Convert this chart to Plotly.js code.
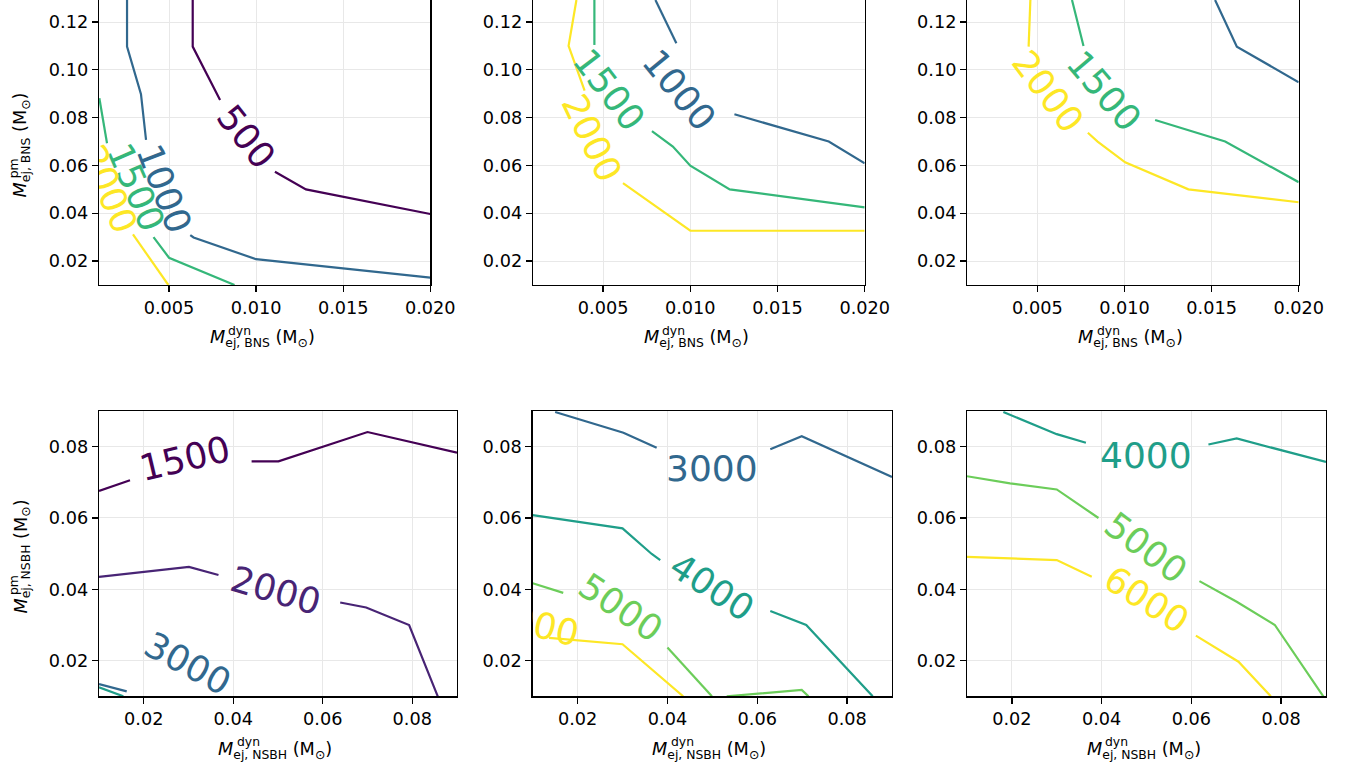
<!DOCTYPE html>
<html><head><meta charset="utf-8">
<script src="https://cdn.plot.ly/plotly-3.0.1.min.js"></script>
<style>html,body{margin:0;padding:0;background:#fff;}#chart{width:1358px;height:769px;}</style>
</head><body><div id="chart"></div>
<script>
// ---------------- data ----------------
const levelsTop = [500, 1000, 1500, 2000];
const levelsBottom = [1500, 2000, 3000, 4000, 5000, 6000];

const xTicksTop = [0.005, 0.010, 0.015, 0.020];
const xTickTextTop = ['0.005', '0.010', '0.015', '0.020'];
const yTicksTop = [0.02, 0.04, 0.06, 0.08, 0.10, 0.12];
const yTickTextTop = ['0.02', '0.04', '0.06', '0.08', '0.10', '0.12'];
const xTicksBottom = [0.02, 0.04, 0.06, 0.08];
const xTickTextBottom = ['0.02', '0.04', '0.06', '0.08'];
const yTicksBottom = [0.02, 0.04, 0.06, 0.08];
const yTickTextBottom = ['0.02', '0.04', '0.06', '0.08'];

// Panel 1 (BNS)
const p1_500_x  = [0.00636, 0.00636, 0.00793, null, 0.01108, 0.01286, 0.0200];
const p1_500_y  = [0.1292, 0.1097, 0.0874, null, 0.0574, 0.0500, 0.0397];
const p1_1000_x = [0.00259, 0.00259, 0.00339, 0.00368, null, 0.00622, 0.00641, 0.00999, 0.0200];
const p1_1000_y = [0.1292, 0.1097, 0.0898, 0.0707, null, 0.0309, 0.0299, 0.0208, 0.0131];
const p1_1500_x = [0.00100, 0.00144, null, 0.00411, 0.00500, 0.00876];
const p1_1500_y = [0.0881, 0.0693, null, 0.0300, 0.0214, 0.0100];
const p1_2000_x = [0.00293, 0.00496];
const p1_2000_y = [0.0312, 0.0100];
const p1_labels = [[500, 0.00942, 0.0721, 51.6], [1000, 0.0047, 0.0502, 69], [1500, 0.00311, 0.0508, 66.5], [2000, 0.00156, 0.0500, 67]];

// Panel 2 (BNS)
const p2_1000_x = [0.0080, 0.0092, null, 0.01253, 0.01794, 0.0200];
const p2_1000_y = [0.1292, 0.1111, null, 0.0814, 0.0700, 0.0609];
const p2_1500_x = [0.0045, 0.0045, null, 0.0078, 0.0090, 0.0100, 0.01226, 0.0200];
const p2_1500_y = [0.1292, 0.1104, null, 0.0744, 0.0679, 0.0599, 0.0500, 0.0425];
const p2_2000_x = [0.00347, 0.00302, 0.00394, null, 0.00614, 0.0100, 0.0200];
const p2_2000_y = [0.1292, 0.1100, 0.0913, null, 0.0526, 0.0327, 0.0327];
const p2_labels = [[1000, 0.00938, 0.0913, 50.7], [1500, 0.00532, 0.0916, 52.6], [2000, 0.00437, 0.0714, 64.6]];

// Panel 3 (BNS)
const p3_1000_x = [0.0152, 0.01645, 0.0200];
const p3_1000_y = [0.1292, 0.1097, 0.0948];
const p3_1500_x = [0.00699, 0.00765, null, 0.01176, 0.01578, 0.0200];
const p3_1500_y = [0.1292, 0.1100, null, 0.0790, 0.0700, 0.0530];
const p3_2000_x = [0.0046, 0.0045, null, 0.0079, 0.00846, 0.01004, 0.01367, 0.0200];
const p3_2000_y = [0.1292, 0.1097, null, 0.0737, 0.0700, 0.0613, 0.0500, 0.0446];
const p3_labels = [[1500, 0.00885, 0.0909, 49.6], [2000, 0.0056, 0.0909, 53]];

// Panel 4 (NSBH)
const p4_1500_x = [0.0100, 0.01693, null, 0.0441, 0.0501, 0.0700, 0.0900];
const p4_1500_y = [0.0676, 0.0706, null, 0.0759, 0.0759, 0.0841, 0.0783];
const p4_2000_x = [0.0100, 0.0301, 0.0367, null, 0.0639, 0.0697, 0.0793, 0.0857];
const p4_2000_y = [0.0435, 0.0463, 0.0440, null, 0.0363, 0.0349, 0.0300, 0.0100];
const p4_3000_x = [0.0100, 0.0162];
const p4_3000_y = [0.01345, 0.01137];
const p4_4000_x = [0.0100, 0.01543];
const p4_4000_y = [0.0125, 0.0100];
const p4_labels = [[1500, 0.0292, 0.0767, -13.4], [2000, 0.0495, 0.0398, 16.3], [3000, 0.0298, 0.0192, 28.4]];

// Panel 5 (NSBH)
const p5_3000_x = [0.0150, 0.0302, 0.0376, null, 0.0629, 0.0699, 0.0900];
const p5_3000_y = [0.0897, 0.0839, 0.0797, null, 0.0793, 0.0829, 0.0715];
const p5_4000_x = [0.0100, 0.0300, 0.0365, 0.0384, null, 0.0629, 0.0709, 0.0857];
const p5_4000_y = [0.0608, 0.0571, 0.0499, 0.0482, null, 0.0339, 0.0300, 0.0100];
const p5_5000_x = [0.0100, 0.0168, null, 0.0400, 0.0499, null, 0.0532, 0.0699, 0.0714];
const p5_5000_y = [0.0417, 0.0390, null, 0.0237, 0.0100, null, 0.0100, 0.0118, 0.0100];
const p5_6000_x = [0.01365, 0.0300, 0.0435];
const p5_6000_y = [0.0264, 0.0246, 0.0100];
const p5_labels = [[3000, 0.0500, 0.0739, 0], [4000, 0.0500, 0.0405, 33.3], [5000, 0.0296, 0.0349, 34], [6000, 0.01025, 0.0303, 14]];

// Panel 6 (NSBH)
const p6_4000_x = [0.0181, 0.0300, 0.0365, null, 0.0638, 0.0701, 0.0900];
const p6_4000_y = [0.0897, 0.0835, 0.0811, null, 0.0806, 0.0823, 0.0757];
const p6_5000_x = [0.0100, 0.0196, 0.0300, 0.0393, null, 0.0618, 0.0701, 0.0786, 0.0894];
const p6_5000_y = [0.0717, 0.0697, 0.0680, 0.0600, null, 0.0423, 0.0365, 0.0300, 0.0100];
const p6_6000_x = [0.0100, 0.0300, 0.0378, null, 0.0610, 0.0705, 0.0777];
const p6_6000_y = [0.0491, 0.0482, 0.0435, null, 0.0270, 0.0197, 0.0100];
const p6_labels = [[4000, 0.0498, 0.0776, 0], [5000, 0.0498, 0.0517, 36.9], [6000, 0.0500, 0.0372, 32.6]];

// ---------------- styling / layout ----------------
const W = 1358, H = 769;
const fx = v => v / W, fy = v => 1 - v / H;
const FONT = 'DejaVu Sans';
const TICK = 17.7, LAB = 36;

const colTop = {500: '#440154', 1000: '#31688e', 1500: '#35b779', 2000: '#fde725'};
const colBot = {1500: '#440154', 2000: '#482475', 3000: '#31688e', 4000: '#1f9e89', 5000: '#6ccd5a', 6000: '#fde725'};

const panels = [
  {n: 1, L: 99, R: 430.3, T: 0, B: 285, top: true, xr: [0.00098, 0.0200], yr: [0.01, 0.1292],
   lines: [[500, p1_500_x, p1_500_y], [1000, p1_1000_x, p1_1000_y], [1500, p1_1500_x, p1_1500_y], [2000, p1_2000_x, p1_2000_y]], labels: p1_labels},
  {n: 2, L: 533, R: 864.7, T: 0, B: 285, top: true, xr: [0.00098, 0.0200], yr: [0.01, 0.1292],
   lines: [[1000, p2_1000_x, p2_1000_y], [1500, p2_1500_x, p2_1500_y], [2000, p2_2000_x, p2_2000_y]], labels: p2_labels},
  {n: 3, L: 967.3, R: 1298.7, T: 0, B: 285, top: true, xr: [0.00098, 0.0200], yr: [0.01, 0.1292],
   lines: [[1000, p3_1000_x, p3_1000_y], [1500, p3_1500_x, p3_1500_y], [2000, p3_2000_x, p3_2000_y]], labels: p3_labels},
  {n: 4, L: 99, R: 457, T: 411, B: 696.3, top: false, xr: [0.01, 0.09], yr: [0.01, 0.09],
   lines: [[1500, p4_1500_x, p4_1500_y], [2000, p4_2000_x, p4_2000_y], [3000, p4_3000_x, p4_3000_y], [4000, p4_4000_x, p4_4000_y]], labels: p4_labels},
  {n: 5, L: 532.7, R: 892, T: 411, B: 696.3, top: false, xr: [0.01, 0.09], yr: [0.01, 0.09],
   lines: [[3000, p5_3000_x, p5_3000_y], [4000, p5_4000_x, p5_4000_y], [5000, p5_5000_x, p5_5000_y], [6000, p5_6000_x, p5_6000_y]], labels: p5_labels},
  {n: 6, L: 967, R: 1326, T: 411, B: 696.3, top: false, xr: [0.01, 0.09], yr: [0.01, 0.09],
   lines: [[4000, p6_4000_x, p6_4000_y], [5000, p6_5000_x, p6_5000_y], [6000, p6_6000_x, p6_6000_y]], labels: p6_labels}
];

const data = [];
const layout = {
  width: W, height: H, margin: {l: 0, r: 0, t: 0, b: 0},
  paper_bgcolor: '#fff', plot_bgcolor: '#fff', showlegend: false,
  font: {family: FONT, color: '#000'},
  annotations: []
};
const clipInfo = [];

function axisBase(dom, range, tv, tt, anchor, mirror) {
  return {domain: dom, range: range, tickmode: 'array', tickvals: tv, ticktext: tt, anchor: anchor,
    showline: true, linecolor: '#000', linewidth: 1.3, mirror: mirror,
    ticks: 'outside', ticklen: 6, tickwidth: 1.3, tickcolor: '#000',
    showgrid: true, gridcolor: '#e8e8e8', gridwidth: 1, zeroline: false,
    tickfont: {family: FONT, size: TICK, color: '#000'}, fixedrange: true};
}

panels.forEach(p => {
  const s = p.n === 1 ? '' : String(p.n);
  const cols = p.top ? colTop : colBot;
  layout['xaxis' + s] = axisBase([fx(p.L), fx(p.R)], p.xr, p.top ? xTicksTop : xTicksBottom,
    p.top ? xTickTextTop : xTickTextBottom, 'y' + s, p.top ? false : true);
  layout['yaxis' + s] = axisBase([fy(p.B), Math.min(1, fy(p.T))], p.yr, p.top ? yTicksTop : yTicksBottom,
    p.top ? yTickTextTop : yTickTextBottom, 'x' + s, true);
  p.lines.forEach(([lev, xs, ys]) => {
    data.push({type: 'scatter', mode: 'lines', x: xs, y: ys, xaxis: 'x' + s, yaxis: 'y' + s,
      connectgaps: false, line: {color: cols[lev], width: 2.2}, hoverinfo: 'skip', showlegend: false});
  });
  p.labels.forEach(([lev, x, y, ang]) => {
    clipInfo.push({idx: layout.annotations.length, L: p.L, R: p.R, T: p.T, B: p.B});
    layout.annotations.push({xref: 'x' + s, yref: 'y' + s, x: x, y: y, text: String(lev), textangle: ang,
      showarrow: false, xanchor: 'center', yanchor: 'middle', font: {family: FONT, size: LAB, color: cols[lev]}});
  });
  // x-axis title
  const cx = (p.L + p.R) / 2;
  const sub = p.top ? 'ej, BNS' : 'ej, NSBH';
  const mStart = cx - (p.top ? 56 : 61);
  const base = p.top ? 343.3 : 755;
  layout.annotations.push({xref: 'paper', yref: 'paper', x: fx(mStart - 1), y: fy(base - 4.9), xanchor: 'left', yanchor: 'middle',
    showarrow: false, text: '<i>M</i><sub>' + sub + '</sub> (M<sub>⊙</sub>)', font: {family: FONT, size: TICK, color: '#000'}});
  layout.annotations.push({xref: 'paper', yref: 'paper', x: fx(mStart + 17.5), y: fy(base - 8.8 - 4.35), xanchor: 'left', yanchor: 'middle',
    showarrow: false, text: 'dyn', font: {family: FONT, size: TICK * 0.7, color: '#000'}});
  // y-axis title on left column
  if (p.n === 1 || p.n === 4) {
    const yStart = p.top ? 198.3 : 615;
    layout.annotations.push({xref: 'paper', yref: 'paper', x: fx(26.5 - 4.9), y: fy(yStart + 1), xanchor: 'center', yanchor: 'bottom',
      textangle: -90, showarrow: false, text: '<i>M</i><sub>' + sub + '</sub> (M<sub>⊙</sub>)', font: {family: FONT, size: TICK, color: '#000'}});
    layout.annotations.push({xref: 'paper', yref: 'paper', x: fx(26.5 - 8.8 - 4.35), y: fy(yStart - 18.3), xanchor: 'center', yanchor: 'bottom',
      textangle: -90, showarrow: false, text: 'pm', font: {family: FONT, size: TICK * 0.7, color: '#000'}});
  }
});

const gd = document.getElementById('chart');
Plotly.newPlot(gd, data, layout, {displayModeBar: false, staticPlot: true}).then(() => {
  const svg = gd.querySelector('svg.main-svg');
  const NS = 'http://www.w3.org/2000/svg';
  let defs = svg.querySelector('defs');
  if (!defs) { defs = document.createElementNS(NS, 'defs'); svg.insertBefore(defs, svg.firstChild); }
  clipInfo.forEach((c, k) => {
    const cp = document.createElementNS(NS, 'clipPath');
    cp.setAttribute('id', 'labclip' + k);
    const r = document.createElementNS(NS, 'rect');
    r.setAttribute('x', c.L); r.setAttribute('y', c.T);
    r.setAttribute('width', c.R - c.L); r.setAttribute('height', c.B - c.T);
    cp.appendChild(r); defs.appendChild(cp);
    const g = gd.querySelector('g.annotation[data-index="' + c.idx + '"]');
    if (g) g.setAttribute('clip-path', 'url(#labclip' + k + ')');
  });
});
</script>
</body></html>
